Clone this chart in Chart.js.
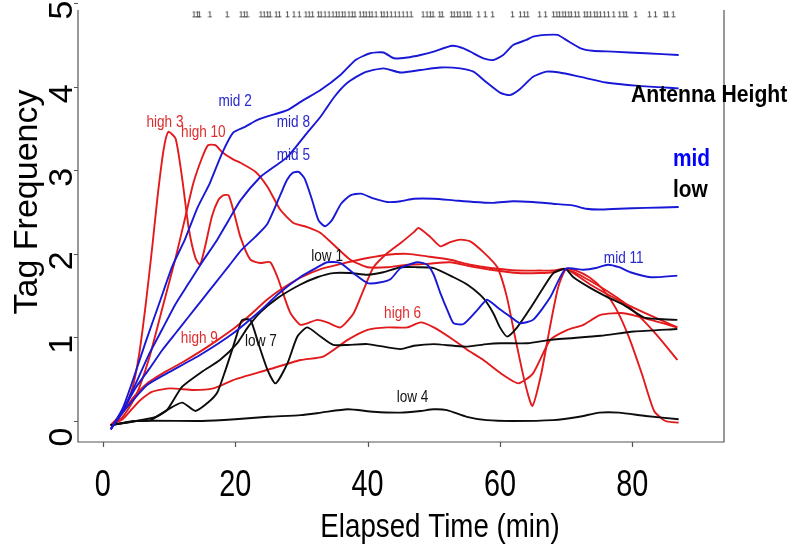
<!DOCTYPE html>
<html lang="en">
<head>
<meta charset="UTF-8">
<title>Tag Frequency by Antenna Height</title>
<script src="https://cdn.jsdelivr.net/npm/chart.js"></script>
<style>
  html, body { margin: 0; padding: 0; background: #fff; }
  #wrap { width: 794px; height: 546px; }
</style>
</head>
<body>
<div id="wrap"><canvas id="tagChart" width="794" height="546"></canvas></div>
<script>
// ---- data (elapsed minutes, tag frequency) ----
const high3 = [[1.2,-0.05],[3,0.1],[4.5,0.4],[5.5,0.8],[6.5,1.4],[7.5,2.1],[8.3,2.7],[9.2,3.25],[9.9,3.46],[11,3.38],[12,2.9],[13,2.3],[14,1.95],[14.7,1.87],[15.5,2.1],[16.5,2.45],[17.5,2.65],[18.2,2.7],[19,2.7],[19.8,2.5],[20.8,2.2],[22.3,1.93],[23.8,1.89],[25.3,1.9],[26.4,1.72],[28.3,1.3],[29.9,1.15],[32.4,1.21],[33.9,1.18],[35.9,1.12],[37.9,1.29],[39.4,1.57],[40.9,1.84],[43,2.01],[45,2.13],[47,2.26],[47.7,2.31],[49.5,2.2],[51,2.09],[52.5,2.14],[54,2.17],[55.5,2.15],[57.5,2.02],[59.6,1.84],[61,1.5],[62.3,1.0],[63.8,0.45],[64.9,0.18],[66.2,0.55],[67.5,1.1],[68.8,1.6],[70,1.82],[71.5,1.8],[73.5,1.72],[75.5,1.58],[77.5,1.35],[79.5,1.0],[81.5,0.55],[83.3,0.12],[85,0.0],[87,-0.02]];
const high10 = [[1.2,-0.05],[3,0.05],[5,0.3],[7,0.75],[9,1.35],[11,1.95],[12.5,2.45],[13.7,2.85],[15,3.15],[15.9,3.3],[17,3.3],[18,3.22],[19.7,3.13],[20.8,3.09],[23.1,2.98],[24.9,2.8],[26.8,2.53],[28.8,2.37],[30.9,2.32],[32.9,2.25],[35,2.1],[37.4,1.93],[40,1.84],[43,1.84],[46,1.87],[49,1.88],[52.5,1.9],[55.5,1.85],[58.6,1.81],[62.7,1.77],[66,1.77],[68,1.78],[70,1.82],[72,1.75],[74,1.66],[76.3,1.55],[78.7,1.42],[81.7,1.2],[84,1.0],[86.8,0.73]];
const high9 = [[1.2,-0.05],[3,0.1],[4.6,0.28],[6.7,0.45],[9.7,0.6],[12,0.7],[14.7,0.83],[17,0.95],[19.7,1.1],[22,1.25],[24.8,1.45],[27,1.58],[30,1.72],[33,1.82],[36,1.88],[40,1.95],[43,1.99],[46,2.0],[49,1.97],[52.5,1.93],[55.5,1.87],[58.6,1.83],[62.7,1.8],[66,1.8],[68,1.8],[70,1.82],[73.7,1.63],[77.8,1.45],[81.7,1.3],[86.8,1.12]];
const high6 = [[1.2,-0.05],[3,0.02],[4.5,0.15],[5.7,0.25],[7.5,0.35],[10.2,0.39],[13.7,0.37],[16.7,0.39],[19.7,0.49],[24.8,0.61],[29.9,0.73],[33.3,0.77],[37,0.97],[40,1.09],[43,1.12],[46,1.12],[48,1.18],[50,1.12],[53,0.97],[55.1,0.85],[57.5,0.73],[60.5,0.55],[62.8,0.45],[65,0.57],[67.6,0.97],[70.2,1.09],[72.6,1.15],[75.2,1.27],[78.7,1.29],[82.8,1.21],[86.8,1.12]];

const mid2 = [[1.2,-0.1],[3,0.15],[4.6,0.5],[6.5,0.95],[8.5,1.4],[10.5,1.85],[12.4,2.17],[14.3,2.55],[16.2,2.85],[18,3.2],[19.7,3.45],[21.5,3.52],[23.3,3.6],[25.5,3.66],[27.9,3.72],[30.3,3.84],[32.9,3.96],[35.9,4.14],[38.2,4.32],[40.4,4.4],[42.4,4.41],[44,4.34],[46,4.35],[48,4.38],[50,4.42],[52.8,4.49],[54.5,4.46],[56,4.4],[57.5,4.34],[59,4.32],[60.5,4.38],[62,4.5],[64,4.56],[65,4.6],[67,4.62],[68.7,4.62],[70,4.56],[72.2,4.46],[74,4.43],[77,4.42],[82,4.4],[87,4.38]];
const mid8 = [[1.2,-0.1],[3,0.12],[5,0.45],[7,0.8],[9,1.1],[11,1.4],[13,1.65],[15,1.9],[17.3,2.17],[19,2.4],[20.8,2.64],[23.8,2.92],[25.5,3.02],[27.9,3.16],[30.9,3.45],[32.9,3.64],[35,3.88],[37,4.05],[39.5,4.17],[42.4,4.22],[45,4.17],[48,4.2],[51,4.23],[54,4.22],[56,4.18],[58,4.05],[60,3.93],[61.5,3.9],[63,3.97],[65,4.12],[67,4.18],[69,4.17],[72,4.12],[76,4.05],[81,4.01],[87,3.98]];
const mid5 = [[1.2,-0.1],[3,0.12],[5,0.4],[7,0.62],[9,0.85],[11,1.05],[13,1.25],[15,1.45],[17,1.65],[19,1.85],[21,2.05],[23,2.2],[24.8,2.35],[26.8,2.7],[27.8,2.88],[28.7,2.97],[29.6,2.98],[30.5,2.9],[31.6,2.65],[32.6,2.4],[33.6,2.33],[34.6,2.4],[36,2.6],[37.4,2.7],[39,2.72],[41,2.66],[43,2.62],[45,2.63],[47,2.66],[50,2.66],[53,2.64],[56,2.62],[59,2.61],[62,2.63],[65,2.62],[68,2.6],[71,2.58],[73,2.54],[75,2.53],[78,2.54],[82,2.55],[87,2.56]];
const mid11 = [[1.2,-0.1],[3,0.1],[4.6,0.25],[6.7,0.43],[9.7,0.57],[14.7,0.79],[19.7,1.05],[23.8,1.32],[26.5,1.52],[29.8,1.72],[32,1.82],[33.9,1.9],[35.9,1.89],[38,1.76],[40,1.65],[42,1.66],[43.5,1.7],[45,1.83],[47.5,1.9],[49,1.87],[50,1.75],[51,1.53],[52.2,1.3],[53,1.17],[54.5,1.16],[56.6,1.33],[58,1.45],[59,1.4],[60.1,1.33],[61.7,1.24],[63,1.17],[65,1.21],[67.6,1.48],[69.9,1.82],[72.6,1.81],[74.5,1.83],[76.3,1.87],[78,1.84],[79.7,1.78],[82.8,1.72],[86.8,1.74]];

const low1 = [[1.2,-0.05],[5,0],[8,0.05],[9.7,0.13],[12,0.41],[15,0.59],[17.7,0.73],[20.3,0.93],[21.9,1.12],[23.8,1.3],[26.4,1.47],[29.8,1.63],[32.4,1.72],[34.8,1.77],[37.4,1.77],[40,1.75],[42.4,1.78],[45,1.84],[47.5,1.84],[50,1.83],[53,1.72],[55.1,1.63],[57.5,1.47],[59,1.29],[60,1.12],[61.1,1.01],[62.6,1.12],[64.6,1.35],[66.6,1.6],[68.1,1.77],[69.9,1.82],[71.1,1.72],[73.7,1.59],[76.3,1.48],[78.7,1.39],[81.7,1.24],[83.8,1.22],[86.8,1.21]];
const low7 = [[1.2,-0.05],[5,0],[7.2,0.01],[9.7,0.13],[12,0.22],[14,0.12],[15.9,0.22],[17.3,0.34],[18.5,0.6],[19.7,0.89],[20.8,1.17],[21.1,1.21],[22.3,1.21],[23.5,0.93],[24.9,0.61],[26.1,0.45],[27.9,0.69],[29.4,1.01],[30.9,1.12],[32.9,1.01],[34.8,0.91],[37,0.91],[40,0.92],[45,0.86],[47,0.9],[50,0.92],[53,0.9],[55.1,0.89],[58,0.92],[60.1,0.93],[64.2,0.93],[67.6,0.97],[75.2,1.02],[80.2,1.07],[86.8,1.1]];
const low4 = [[1.2,-0.05],[5,0],[15,0],[20,0.02],[25,0.05],[29.9,0.07],[33,0.1],[37,0.14],[40.9,0.11],[45,0.1],[48,0.12],[50,0.14],[52,0.13],[55,0.05],[58,0.01],[62,0],[68,0.01],[72,0.05],[75,0.1],[78,0.1],[82,0.06],[87,0.02]];

// detection times shown as the rug along the top
const rugTimes = [13.8,14.3,14.6,16.2,18.8,20.9,21.4,21.8,23.9,24.4,24.9,25.3,26.2,26.7,27.9,28.9,29.7,30.7,31.2,31.7,32.6,33.0,33.6,34.2,34.8,35.3,35.7,36.2,36.6,37.2,37.7,38.1,38.9,39.4,39.8,40.3,40.7,41.3,42.1,42.5,43.0,43.6,44.2,44.8,45.4,46.0,46.6,48.4,49.0,49.5,49.9,50.9,51.3,52.7,53.1,53.6,54.0,54.6,55.1,55.5,56.8,57.8,58.9,61.9,63.1,63.7,64.2,66.0,66.9,68.1,68.6,69.0,69.5,69.9,70.4,70.8,71.4,71.9,72.8,73.2,73.7,74.3,74.7,75.2,75.8,76.4,77.2,78.1,78.7,79.1,80.5,82.6,83.5,84.9,85.3,86.2];

const xTicks = [0, 20, 40, 60, 80];
const yTicks = [0, 1, 2, 3, 4, 5];

// curve labels, placed in data units
const curveLabels = [
  { text: 'high 3', x: 9.4, y: 3.58, group: 'high' },
  { text: 'high 10', x: 15.2, y: 3.46, group: 'high' },
  { text: 'mid 2', x: 20.0, y: 3.83, group: 'mid' },
  { text: 'mid 8', x: 28.8, y: 3.58, group: 'mid' },
  { text: 'mid 5', x: 28.8, y: 3.18, group: 'mid' },
  { text: 'high 9', x: 14.6, y: 0.99, group: 'high' },
  { text: 'low 7', x: 23.9, y: 0.95, group: 'low' },
  { text: 'low 1', x: 33.9, y: 1.97, group: 'low' },
  { text: 'high 6', x: 45.3, y: 1.29, group: 'high' },
  { text: 'low 4', x: 46.8, y: 0.28, group: 'low' },
  { text: 'mid 11', x: 78.7, y: 1.95, group: 'mid' }
];

const lineColors = { high: 'rgb(226,26,28)', mid: 'rgb(24,24,214)', low: 'rgb(12,12,12)' };
const labelColors = { high: 'rgb(222,44,44)', mid: 'rgb(40,40,205)', low: 'rgb(20,20,20)' };
const FONT = "'Liberation Sans', Arial, sans-serif";

// small "1" glyph used as the rug mark
const rugMark = document.createElement('canvas');
rugMark.width = 5; rugMark.height = 9;
(function () {
  const c = rugMark.getContext('2d');
  c.fillStyle = '#333';
  c.font = '9px ' + FONT;
  c.textAlign = 'center';
  c.textBaseline = 'middle';
  c.fillText('1', 2.5, 5);
})();

function series(name, pts, group) {
  return {
    label: name,
    data: pts.map(p => ({ x: p[0], y: p[1] })),
    borderColor: lineColors[group],
    borderWidth: 1.9,
    pointRadius: 0,
    tension: 0.2,
    fill: false
  };
}

function txt(ctx, s, x, y, size, color, opts) {
  opts = opts || {};
  ctx.save();
  ctx.translate(x, y);
  if (opts.rot) ctx.rotate(opts.rot);
  ctx.scale(opts.sx || 1, 1);
  ctx.font = (opts.bold ? 'bold ' : '') + size + 'px ' + FONT;
  ctx.fillStyle = color;
  ctx.textAlign = opts.align || 'center';
  ctx.textBaseline = opts.baseline || 'alphabetic';
  ctx.fillText(s, 0, 0);
  ctx.restore();
}

const frameAndText = {
  id: 'frameAndText',
  afterDraw(chart) {
    const ctx = chart.ctx;
    const xs = chart.scales.x, ys = chart.scales.y;
    const a = chart.chartArea;

    // frame: left, bottom, right
    ctx.save();
    ctx.strokeStyle = '#555';
    ctx.lineWidth = 1.2;
    ctx.beginPath();
    ctx.moveTo(a.left, a.top); ctx.lineTo(a.left, a.bottom);
    ctx.lineTo(a.right, a.bottom); ctx.lineTo(a.right, a.top);
    ctx.stroke();

    // tick marks
    ctx.beginPath();
    xTicks.forEach(v => {
      const px = Math.round(xs.getPixelForValue(v)) + 0.5;
      ctx.moveTo(px, a.bottom); ctx.lineTo(px, a.bottom + 5);
    });
    yTicks.forEach(v => {
      const py = Math.round(ys.getPixelForValue(v)) + 0.5;
      ctx.moveTo(a.left, py); ctx.lineTo(a.left - 4, py);
    });
    ctx.stroke();
    ctx.restore();

    // tick labels
    xTicks.forEach(v => {
      txt(ctx, String(v), xs.getPixelForValue(v), 496, 36, '#000', { sx: 0.8 });
    });
    yTicks.forEach(v => {
      const shift = v === 0 ? 16 : 7;
      txt(ctx, String(v), 72, ys.getPixelForValue(v) + shift, 34, '#000', { rot: -Math.PI / 2 });
    });

    // axis titles
    txt(ctx, 'Elapsed Time (min)', 440, 537, 33, '#000', { sx: 0.84 });
    txt(ctx, 'Tag Frequency', 37, 202, 34, '#000', { rot: -Math.PI / 2 });

    // curve labels
    curveLabels.forEach(l => {
      txt(ctx, l.text, xs.getPixelForValue(l.x), ys.getPixelForValue(l.y), 17, labelColors[l.group],
        { sx: 0.8, baseline: 'middle' });
    });

    // legend text
    txt(ctx, 'Antenna Height', 631, 102, 23, '#000', { bold: true, sx: 0.92, align: 'left' });
    txt(ctx, 'mid', 673, 166, 24, 'rgb(0,0,255)', { bold: true, sx: 0.87, align: 'left' });
    txt(ctx, 'low', 673, 197, 24, '#000', { bold: true, sx: 0.87, align: 'left' });
  }
};

const ctx = document.getElementById('tagChart').getContext('2d');
new Chart(ctx, {
  type: 'line',
  data: {
    datasets: [
      {
        label: 'detections',
        data: rugTimes.map(t => ({ x: t, y: 4.86 })),
        showLine: false,
        pointStyle: rugMark,
        pointRadius: 3,
        pointHoverRadius: 3
      },
      series('mid 2', mid2, 'mid'),
      series('mid 8', mid8, 'mid'),
      series('mid 5', mid5, 'mid'),
      series('mid 11', mid11, 'mid'),
      series('low 1', low1, 'low'),
      series('low 7', low7, 'low'),
      series('low 4', low4, 'low'),
      series('high 3', high3, 'high'),
      series('high 10', high10, 'high'),
      series('high 9', high9, 'high'),
      series('high 6', high6, 'high')
    ]
  },
  options: {
    responsive: false,
    animation: false,
    devicePixelRatio: 1,
    layout: { padding: { left: 78, right: 70, top: 10, bottom: 104 } },
    plugins: { legend: { display: false }, tooltip: { enabled: false } },
    scales: {
      x: { type: 'linear', min: -3.74, max: 93.85, display: false },
      y: { type: 'linear', min: -0.2515, max: 4.918, display: false }
    }
  },
  plugins: [frameAndText]
});
</script>
</body>
</html>
